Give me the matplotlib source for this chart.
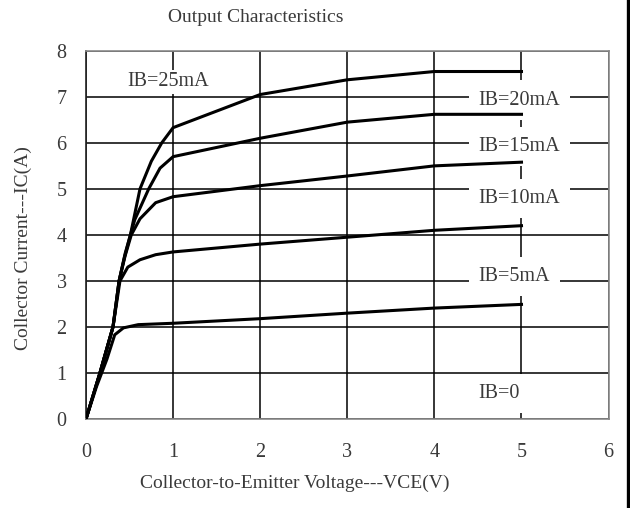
import matplotlib
matplotlib.use("Agg")
import matplotlib.pyplot as plt
from matplotlib.lines import Line2D

plt.rcParams["font.family"] = ["Liberation Serif", "DejaVu Serif"]

# Collector current IC (A) vs VCE (V) for each base current
vce_5 = [0, 0.12, 0.24, 0.33, 0.43, 0.6, 1, 2, 3, 4, 5]
ic_5 = [0, 0.7, 1.3, 1.83, 1.98, 2.05, 2.08, 2.18, 2.3, 2.41, 2.49]

vce_10 = [0, 0.16, 0.31, 0.39, 0.48, 0.62, 0.8, 1, 2, 3, 4, 5]
ic_10 = [0, 1.0, 2.0, 3.0, 3.3, 3.46, 3.57, 3.63, 3.8, 3.95, 4.1, 4.2]

vce_15 = [0, 0.16, 0.31, 0.38, 0.45, 0.52, 0.62, 0.8, 1, 2, 3, 4, 5]
ic_15 = [0, 1.0, 2.0, 3.0, 3.55, 4.0, 4.35, 4.7, 4.83, 5.07, 5.28, 5.5, 5.58]

vce_20 = [0, 0.16, 0.31, 0.38, 0.45, 0.56, 0.72, 0.85, 1, 2, 3, 4, 5]
ic_20 = [0, 1.0, 2.0, 3.0, 3.6, 4.33, 5.0, 5.45, 5.7, 6.1, 6.45, 6.62, 6.62]

vce_25 = [0, 0.16, 0.31, 0.38, 0.44, 0.51, 0.62, 0.75, 0.87, 1, 2, 3, 4, 5]
ic_25 = [0, 1.0, 2.0, 3.0, 3.5, 4.0, 5.0, 5.6, 6.0, 6.33, 7.05, 7.37, 7.55, 7.55]

curve_labels = ["IB=25mA", "IB=20mA", "IB=15mA", "IB=10mA", "IB=5mA", "IB=0"]
label_x = [0.48, 4.51, 4.51, 4.51, 4.51, 4.51]
label_y = [7.33, 6.93, 5.92, 4.8, 3.1, 0.56]

x_ticks = [0, 1, 2, 3, 4, 5, 6]
y_ticks = [0, 1, 2, 3, 4, 5, 6, 7, 8]

txt = "#3a3a3a"

fig = plt.figure(figsize=(6.3, 5.08), dpi=100)
ax = fig.add_axes([0.1365, 0.1752, 0.8295, 0.7248])

for v, i in [(vce_5, ic_5), (vce_10, ic_10), (vce_15, ic_15),
             (vce_20, ic_20), (vce_25, ic_25)]:
    ax.plot(v, i, color="black", lw=2.2, zorder=4, solid_joinstyle="round")

ax.set_xlim(0, 6)
ax.set_ylim(0, 8)
ax.set_xticks(x_ticks)
ax.set_yticks(y_ticks)
ax.grid(True, color="black", lw=1.1)
ax.tick_params(length=0, labelsize=14.5, labelcolor=txt)
ax.tick_params(axis="x", pad=17)
ax.tick_params(axis="y", pad=14)

for side in ["top", "right", "bottom"]:
    ax.spines[side].set_color("#8a8a8a")
    ax.spines[side].set_linewidth(1.2)
ax.spines["left"].set_color("#222222")
ax.spines["left"].set_linewidth(1.2)

for k, (lab, lx, ly) in enumerate(zip(curve_labels, label_x, label_y)):
    pad = 0.12 if k == 0 else 0.5
    ax.text(lx, ly, lab, fontsize=14.5, color=txt, ha="left", va="center",
            zorder=3,
            bbox=dict(boxstyle=f"square,pad={pad}", fc="white", ec="none"))

ax.set_xlabel("Collector-to-Emitter Voltage---VCE(V)", fontsize=14, color=txt)
ax.xaxis.label.set_va("center")
ax.xaxis.set_label_coords(0.40, -0.174)
ax.set_ylabel("Collector Current---IC(A)", fontsize=14, color=txt)
ax.yaxis.label.set_va("center")
ax.yaxis.set_label_coords(-0.12, 0.465)

fig.text(256 / 630, 1 - 17 / 508, "Output Characteristics", fontsize=14,
         color=txt, ha="center", va="center")

# heavy frame line along the right edge
fig.add_artist(Line2D([627.5 / 630, 627.5 / 630], [0, 1], color="black",
                      lw=2.4, transform=fig.transFigure))

fig.savefig("out.png", dpi=100)
